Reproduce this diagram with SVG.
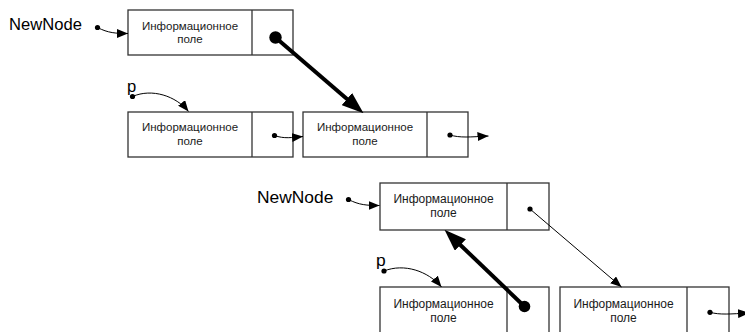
<svg xmlns="http://www.w3.org/2000/svg" width="745" height="332" viewBox="0 0 745 332">
  <style>
    .box { fill: #ffffff; stroke: #333333; stroke-width: 1.3; }
    .div { stroke: #333333; stroke-width: 1.3; }
    .lbl { font-family: "Liberation Sans", Arial, sans-serif; fill: #000; }
    .fld { font-family: "Liberation Sans", Arial, sans-serif; fill: #1a1a1a; text-anchor: middle; }
    .f1 { font-size: 11.5px; }
    .f2 { font-size: 12px; }
    .var1 { font-size: 16.6px; }
    .var2 { font-size: 17.4px; }
    .thin { fill: none; stroke: #000; stroke-width: 1; }
    .thick { fill: none; stroke: #000; stroke-width: 4; }
    .dot { fill: #000; }
  </style>
  <defs>
    <marker id="arr" markerUnits="userSpaceOnUse" markerWidth="11" markerHeight="9" refX="11" refY="4.5" orient="auto">
      <path d="M0,0 L11,4.5 L0,9 z" fill="#000"/>
    </marker>
    <marker id="arrBig" markerUnits="userSpaceOnUse" markerWidth="22" markerHeight="16" refX="4" refY="8" orient="auto">
      <path d="M0,0 L22,8 L0,16 z" fill="#000"/>
    </marker>
  </defs>

  <!-- upper scheme: list before insertion -->
  <g id="var-newnode-a">
    <text class="lbl var1" x="9" y="30">NewNode</text>
  </g>
  <g id="node-new-a">
    <rect class="box" x="128" y="10" width="165" height="45"/>
    <line class="div" x1="252" y1="10" x2="252" y2="55"/>
    <text class="fld f1" x="190" y="29.5">Информационное</text>
    <text class="fld f1" x="190" y="43">поле</text>
  </g>
  <g id="var-p-a">
    <text class="lbl var1" x="127" y="92">p</text>
  </g>
  <g id="node-p-a">
    <rect class="box" x="128" y="112" width="165" height="45"/>
    <line class="div" x1="252" y1="112" x2="252" y2="157"/>
    <text class="fld f1" x="190" y="131">Информационное</text>
    <text class="fld f1" x="190" y="144.5">поле</text>
  </g>
  <g id="node-next-a">
    <rect class="box" x="303" y="112" width="165" height="45"/>
    <line class="div" x1="427" y1="112" x2="427" y2="157"/>
    <text class="fld f1" x="365" y="131">Информационное</text>
    <text class="fld f1" x="365" y="144.5">поле</text>
  </g>

  <!-- lower scheme: list after insertion -->
  <g id="var-newnode-b">
    <text class="lbl var2" x="257" y="203">NewNode</text>
  </g>
  <g id="node-new-b">
    <rect class="box" x="380" y="183" width="169" height="47"/>
    <line class="div" x1="507" y1="183" x2="507" y2="230"/>
    <text class="fld f2" x="443.5" y="202.5">Информационное</text>
    <text class="fld f2" x="443.5" y="216.5">поле</text>
  </g>
  <g id="var-p-b">
    <text class="lbl var2" x="376" y="266">p</text>
  </g>
  <g id="node-p-b">
    <rect class="box" x="380" y="287" width="169" height="50"/>
    <line class="div" x1="507" y1="287" x2="507" y2="337"/>
    <text class="fld f2" x="443.5" y="308">Информационное</text>
    <text class="fld f2" x="443.5" y="321.5">поле</text>
  </g>
  <g id="node-next-b">
    <rect class="box" x="560" y="287" width="169" height="50"/>
    <line class="div" x1="687" y1="287" x2="687" y2="337"/>
    <text class="fld f2" x="623.5" y="308">Информационное</text>
    <text class="fld f2" x="623.5" y="321.5">поле</text>
  </g>

  <g id="connectors">
    <!-- upper scheme -->
    <circle class="dot" cx="97.5" cy="27.5" r="2.6"/>
    <path class="thin" d="M97.5,27.5 C108,33 116,33.5 128,33.5" marker-end="url(#arr)"/>
    <circle class="dot" cx="275.5" cy="37.5" r="6.2"/>
    <path class="thick" d="M275.5,37.5 L349.9,101.6" marker-end="url(#arrBig)"/>
    <circle class="dot" cx="132.5" cy="96.5" r="2.6"/>
    <path class="thin" d="M132.5,96.5 C152,88 176,96 188.5,111.5" marker-end="url(#arr)"/>
    <circle class="dot" cx="274.5" cy="135.5" r="2.6"/>
    <path class="thin" d="M274.5,135.5 C284,139 292,137.5 303,136.5" marker-end="url(#arr)"/>
    <circle class="dot" cx="450" cy="135" r="2.6"/>
    <path class="thin" d="M450,135 C460,138 470,137 488.5,136" marker-end="url(#arr)"/>

    <!-- lower scheme -->
    <circle class="dot" cx="348.5" cy="199.5" r="2.6"/>
    <path class="thin" d="M348.5,199.5 C359,205 367,205.5 379.5,205.5" marker-end="url(#arr)"/>
    <circle class="dot" cx="530" cy="209" r="2.6"/>
    <path class="thin" d="M530,209 L621.5,287" marker-end="url(#arr)"/>
    <circle class="dot" cx="524.5" cy="306.5" r="5.8"/>
    <path class="thick" d="M524.5,306.5 L457.5,242.2" marker-end="url(#arrBig)"/>
    <circle class="dot" cx="384" cy="271" r="2.6"/>
    <path class="thin" d="M384,271 C404,263 428,271 441.5,287" marker-end="url(#arr)"/>
    <circle class="dot" cx="710" cy="312.3" r="2.6"/>
    <path class="thin" d="M710,312.3 C720,315 730,314 749,313" marker-end="url(#arr)"/>
  </g>
</svg>
